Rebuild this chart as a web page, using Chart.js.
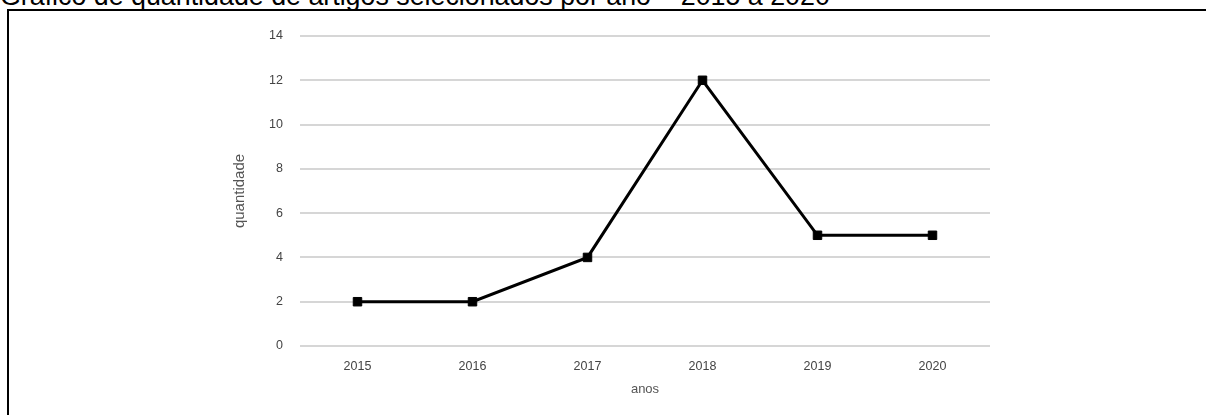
<!DOCTYPE html>
<html>
<head>
<meta charset="utf-8">
<script src="https://cdn.jsdelivr.net/npm/chart.js@4"></script>
<style>
    html, body { margin: 0; padding: 0; width: 1206px; height: 415px; overflow: hidden; background: #fff; }
    #titulo {
        position: absolute; left: 0; top: -17px; line-height: 1;
        font-family: "Liberation Sans", Arial, sans-serif; font-size: 26.8px; color: #000;
        white-space: nowrap;
    }
    #moldura {
        position: absolute; left: 7px; top: 9px; width: 1300px; height: 500px;
        border: 2px solid #000; box-sizing: border-box;
    }
    #grafico { position: absolute; left: 0; top: 0; width: 1206px; height: 415px; }
</style>
</head>
<body>
<div id="titulo">Gráfico de quantidade de artigos selecionados por ano – 2015 a 2020</div>
<div id="moldura"></div>
<div id="grafico"><canvas id="quantidadeChart"></canvas></div>

<script>
// dados
const anos = ['2015', '2016', '2017', '2018', '2019', '2020'];
const quantidade = [2, 2, 4, 12, 5, 5];
const ticksY = [0, 2, 4, 6, 8, 10, 12, 14];

const fonte = '"Liberation Sans", Arial, sans-serif';

{const ctx = document.getElementById('quantidadeChart').getContext('2d');

    const config = {
        type: 'line',
        data: {
            labels: anos,
            datasets: [{
                label: 'quantidade',
                data: quantidade,
                borderColor: '#000',
                backgroundColor: '#000',
                borderWidth: 3,
                tension: 0,
                pointStyle: 'rect',
                pointRadius: 6,
                pointBorderWidth: 1,
                pointBorderColor: '#000',
                pointBackgroundColor: '#000'
            }]
        },
        options: {
            responsive: true,
            maintainAspectRatio: false,
            animation: false,
            layout: { padding: { top: 36, right: 216, bottom: 18, left: 231 } },
            plugins: {
                legend: { display: false },
                tooltip: { enabled: false }
            },
            scales: {
                x: {
                    offset: true,
                    grid: { display: false, drawTicks: false },
                    border: { display: false },
                    ticks: { color: '#444', font: { family: fonte, size: 12.5 }, padding: 13 },
                    title: {
                        display: true, text: 'anos', color: '#555',
                        font: { family: fonte, size: 13 }, padding: 0
                    },
                    afterFit: function (scale) { scale.height = 51; }
                },
                y: {
                    min: 0,
                    max: 14,
                    afterBuildTicks: function (scale) {
                        scale.ticks = ticksY.map(v => ({ value: v }));
                    },
                    grid: { color: '#d6d6d6', lineWidth: 2, drawTicks: false },
                    border: { display: false },
                    ticks: { color: '#444', font: { family: fonte, size: 12.5 }, padding: 17 },
                    title: {
                        display: true, text: 'quantidade', color: '#555',
                        font: { family: fonte, size: 15 }, padding: 0
                    },
                    afterFit: function (scale) { scale.width = 69; }
                }
            }
        }
    };

    const quantidadeChart = new Chart(ctx, config);}
</script>
</body>
</html>
